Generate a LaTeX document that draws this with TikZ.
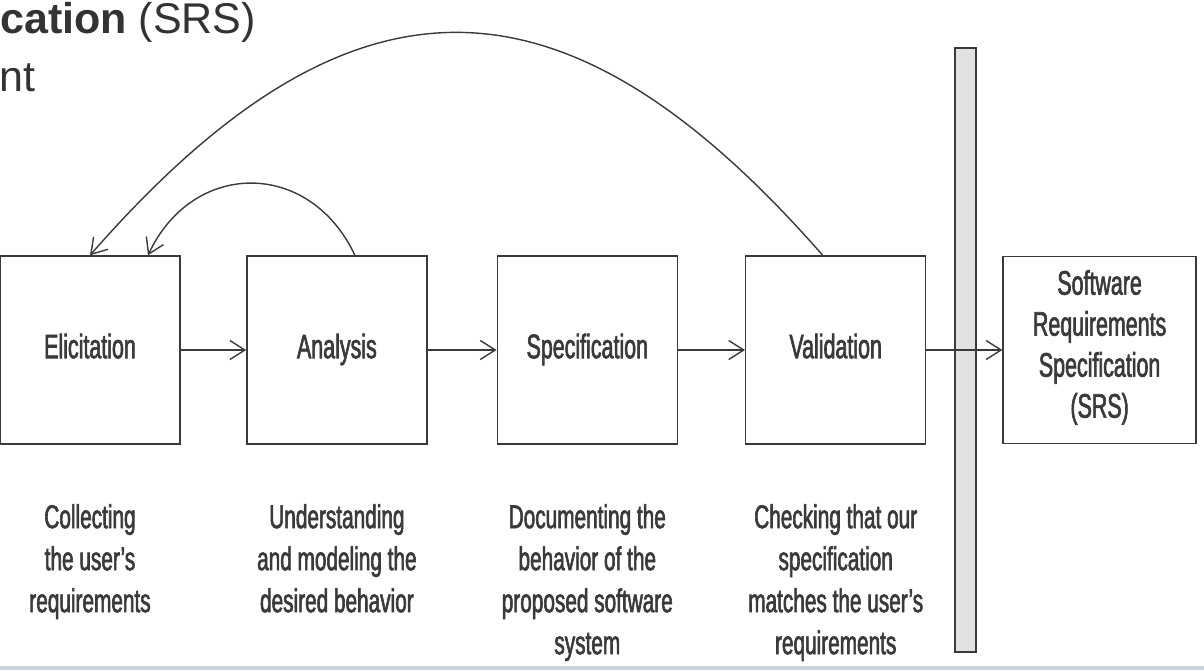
\documentclass[tikz,border=0pt]{standalone}
\usepackage{fontspec}
\setmainfont{Liberation Sans}
\newfontfamily\handfont{Liberation Sans}[FakeStretch=0.63,FakeBold=1.8]
\usetikzlibrary{positioning,arrows.meta}
\definecolor{inkgray}{HTML}{3A3A3A}
\definecolor{headgray}{HTML}{333333}
\definecolor{bargray}{HTML}{E2E2E2}
\definecolor{rulegray}{HTML}{C9D3DA}
\def\lw{1.4pt}
\tikzset{
  stage/.style={draw=inkgray,line width=\lw,minimum width=180pt,minimum height=188pt,font=\handfont\fontsize{34}{41}\selectfont,text=inkgray,align=center,execute at begin node=\strut},
  note/.style={font=\handfont\fontsize{33}{42}\selectfont,text=inkgray,align=center},
  heading/.style={font=\fontsize{43}{52}\selectfont,text=headgray,anchor=base west,inner sep=0pt},
  flow/.style={draw=inkgray,line width=\lw,-{Straight Barb[length=15pt,width=19pt,line width=\lw]}}
}

\begin{document}
\begin{tikzpicture}[x=1pt,y=-1pt]
  \useasboundingbox[fill=white] (0,0) rectangle (1204,670);
  \node[heading] (title) at (0,33) {\textbf{cation} (SRS)};
  \node[heading] (titletail) at (-1,91) {nt};
  \node[stage] (elic) at (90,350) {Elicitation};
  \node[stage] (ana) [right=65.5pt of elic] {Analysis};
  \node[stage] (spec) [right=69pt of ana] {Specification};
  \node[stage] (val) [right=67pt of spec] {Validation};
  \node[fill=bargray,draw=inkgray,line width=\lw,minimum width=21pt,minimum height=604pt] (gate) at (965.5,350) {};
  \node[stage,minimum width=193pt,minimum height=187pt] (srs) [right=76pt of val] {Software\\Requirements\\Specification\\(SRS)};
  \node[note] (elicnote) [below=56pt of elic] {Collecting\\the user’s\\requirements};
  \node[note] (ananote) [below=56pt of ana] {Understanding\\and modeling the\\desired behavior};
  \node[note] (specnote) [below=56pt of spec] {Documenting the\\behavior of the\\proposed software\\system};
  \node[note] (valnote) [below=56pt of val] {Checking that our\\specification\\matches the user’s\\requirements};
  \draw[flow] (elic) -- (ana);
  \draw[flow] (ana) -- (spec);
  \draw[flow] (spec) -- (val);
  \draw[flow] (val) -- (srs);
  \draw[flow] ([xshift=18pt]ana.north) .. controls +(-45,-96) and +(45,-96) .. ([xshift=58pt]elic.north);
  \draw[flow] ([xshift=-13pt]val.north) .. controls +(-260,-297) and +(260,-297) .. (elic.north);
  \fill[rulegray] (0,666) rectangle (1204,670);
\end{tikzpicture}
\end{document}
